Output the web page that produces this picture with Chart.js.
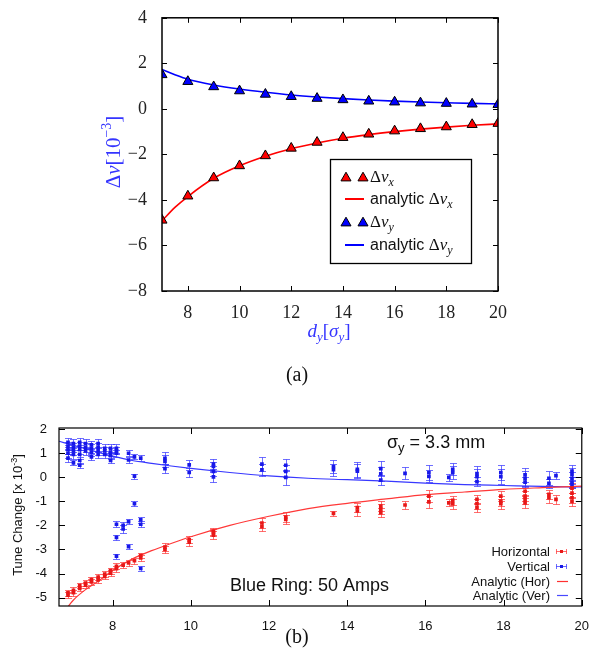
<!DOCTYPE html>
<html>
<head>
<meta charset="utf-8">
<script src="https://cdn.jsdelivr.net/npm/chart.js@4.4.1/dist/chart.umd.min.js"></script>
<style>
  body { margin: 0; background: #fff; }
  #wrap { position: relative; width: 594px; height: 660px; }
  canvas { position: absolute; left: 0; }
  #chartA { top: 0; }
  #chartB { top: 400px; }
</style>
</head>
<body>
<div id="wrap">
  <canvas id="chartA" width="594" height="400"></canvas>
  <canvas id="chartB" width="594" height="260"></canvas>
</div>
<script>
// ===============================
// (a) SIMULATION DATA
// ===============================
const dySigma = [7, 8, 9, 10, 11, 12, 13, 14, 15, 16, 17, 18, 19, 20];
const dNuX = [-4.89, -3.83, -3.03, -2.5, -2.06, -1.73, -1.47, -1.26, -1.11, -0.97, -0.87, -0.79, -0.69, -0.64];
const dNuY = [1.5, 1.2, 0.97, 0.79, 0.64, 0.54, 0.46, 0.4, 0.34, 0.3, 0.26, 0.24, 0.21, 0.19];

const anaGridA = [7, 7.5, 8, 9, 10, 11, 12, 13, 14, 15, 16, 17, 18, 19, 20];
const anaNuX = [-4.92, -4.33, -3.85, -3.05, -2.5, -2.08, -1.75, -1.5, -1.29, -1.13, -1.0, -0.89, -0.8, -0.72, -0.66];
const anaNuY = [1.73, 1.5, 1.3, 1.05, 0.87, 0.73, 0.61, 0.52, 0.45, 0.39, 0.34, 0.3, 0.27, 0.24, 0.22];

const xTicksA = [8, 10, 12, 14, 16, 18, 20];
const yTicksA = [-8, -6, -4, -2, 0, 2, 4];

// ===============================
// (b) MEASUREMENT DATA  [x, y, err]
// ===============================
const horPts = [
  [6.86, -4.9, 0.12], [6.86, -4.8, 0.12], [7.0, -4.8, 0.12], [7.0, -4.7, 0.12],
  [7.16, -4.62, 0.12], [7.16, -4.5, 0.12], [7.31, -4.48, 0.12], [7.31, -4.4, 0.12],
  [7.46, -4.35, 0.12], [7.46, -4.25, 0.12], [7.63, -4.27, 0.12], [7.63, -4.15, 0.12],
  [7.8, -4.12, 0.12], [7.8, -4.02, 0.12], [7.95, -3.98, 0.12], [7.95, -3.88, 0.12],
  [8.1, -3.8, 0.12], [8.1, -3.7, 0.12], [8.27, -3.65, 0.12], [8.41, -3.56, 0.12],
  [8.56, -3.47, 0.12], [8.72, -3.35, 0.12], [8.72, -3.25, 0.12],
  [9.34, -3.0, 0.15], [9.34, -2.9, 0.15], [9.96, -2.7, 0.15], [9.96, -2.6, 0.15],
  [10.58, -2.4, 0.15], [10.58, -2.3, 0.15], [10.58, -2.25, 0.15],
  [11.82, -2.05, 0.2], [11.82, -1.9, 0.2], [12.43, -1.75, 0.2], [12.43, -1.65, 0.2],
  [13.65, -1.5, 0.12], [14.26, -1.4, 0.2], [14.26, -1.26, 0.2],
  [14.86, -1.47, 0.2], [14.86, -1.33, 0.2], [14.86, -1.2, 0.2], [15.48, -1.15, 0.15],
  [16.09, -1.02, 0.25], [16.09, -0.78, 0.25], [16.6, -1.06, 0.15],
  [16.7, -1.1, 0.2], [16.7, -0.96, 0.2],
  [17.32, -1.26, 0.2], [17.32, -1.1, 0.2], [17.32, -0.92, 0.2],
  [17.93, -1.1, 0.2], [17.93, -0.99, 0.2], [17.93, -0.78, 0.2],
  [18.55, -1.06, 0.2], [18.55, -0.92, 0.2], [18.55, -0.78, 0.2], [18.55, -0.58, 0.2],
  [19.16, -0.85, 0.2], [19.16, -0.71, 0.2], [19.34, -0.92, 0.2],
  [19.75, -1.0, 0.2], [19.75, -0.85, 0.2], [19.75, -0.66, 0.2], [19.75, -0.45, 0.2]
];

const verPts = [
  [6.86, 1.45, 0.18], [6.86, 1.3, 0.18], [6.86, 1.15, 0.18], [6.86, 1.0, 0.18], [6.86, 0.8, 0.15],
  [7.0, 1.4, 0.18], [7.0, 1.25, 0.18], [7.0, 1.1, 0.18], [7.0, 0.95, 0.18], [7.0, 0.6, 0.1],
  [7.16, 1.45, 0.18], [7.16, 1.3, 0.18], [7.16, 1.15, 0.18], [7.16, 0.95, 0.18], [7.16, 0.7, 0.15], [7.16, 0.5, 0.1],
  [7.31, 1.4, 0.18], [7.31, 1.25, 0.18], [7.31, 1.1, 0.18],
  [7.46, 1.35, 0.18], [7.46, 1.2, 0.18], [7.46, 1.05, 0.18], [7.46, 0.85, 0.12],
  [7.63, 1.4, 0.2], [7.63, 1.25, 0.18], [7.63, 1.1, 0.18], [7.63, 0.95, 0.15],
  [7.8, 1.2, 0.18], [7.8, 1.1, 0.18], [7.8, 0.95, 0.15],
  [7.95, 1.2, 0.18], [7.95, 1.05, 0.18], [7.95, 0.9, 0.15], [7.95, 0.7, 0.12],
  [8.1, 1.2, 0.18], [8.1, 1.1, 0.15], [8.1, 1.0, 0.15],
  [8.1, -1.95, 0.12], [8.1, -2.5, 0.1], [8.1, -3.28, 0.1],
  [8.27, -2.0, 0.15], [8.27, -2.15, 0.15],
  [8.41, 1.0, 0.12], [8.41, 0.72, 0.12], [8.41, -1.84, 0.1], [8.41, -2.88, 0.1],
  [8.56, 0.85, 0.1], [8.56, 0.05, 0.1], [8.56, -1.1, 0.1],
  [8.72, 0.8, 0.12], [8.72, -1.77, 0.12], [8.72, -1.95, 0.12], [8.72, -3.79, 0.1],
  [9.34, 0.79, 0.25], [9.34, 0.66, 0.25], [9.34, 0.36, 0.2],
  [9.96, 0.52, 0.2], [9.96, 0.2, 0.2],
  [10.58, 0.55, 0.2], [10.58, 0.45, 0.2], [10.58, 0.25, 0.2], [10.58, 0.02, 0.2],
  [11.82, 0.55, 0.3], [11.82, 0.31, 0.25],
  [12.43, 0.5, 0.25], [12.43, 0.25, 0.25], [12.43, 0.0, 0.3],
  [13.65, 0.45, 0.25], [13.65, 0.32, 0.25],
  [14.26, 0.33, 0.3], [14.26, 0.26, 0.3],
  [14.86, 0.36, 0.3], [14.86, 0.14, 0.3], [14.86, -0.12, 0.2],
  [15.48, 0.16, 0.25],
  [16.09, 0.2, 0.3], [16.09, 0.04, 0.25],
  [16.6, 0.0, 0.15], [16.7, 0.33, 0.25], [16.7, 0.2, 0.25],
  [17.32, 0.15, 0.3], [17.32, 0.03, 0.3], [17.32, -0.18, 0.2],
  [17.93, 0.2, 0.3], [17.93, 0.03, 0.3],
  [18.55, 0.1, 0.3], [18.55, -0.05, 0.3], [18.55, -0.2, 0.2],
  [19.16, -0.04, 0.3], [19.16, -0.25, 0.2], [19.34, 0.07, 0.15],
  [19.75, 0.26, 0.25], [19.75, 0.12, 0.25], [19.75, -0.04, 0.25], [19.75, -0.2, 0.2], [19.75, -0.3, 0.15]
];

const anaGridHor = [6.8, 7, 7.3, 7.67, 8, 8.5, 9, 9.5, 10, 11, 12, 13, 14, 15, 16, 17, 18, 19, 20];
const anaHorB = [-5.5, -5.1, -4.68, -4.28, -3.87, -3.4, -3.05, -2.75, -2.47, -2.0, -1.62, -1.3, -1.08, -0.9, -0.72, -0.61, -0.5, -0.43, -0.37];
const anaGridVer = [6.63, 7, 7.5, 8, 8.5, 9, 9.5, 10, 11, 12, 13, 14, 15, 16, 17, 18, 19, 20];
const anaVerB = [1.5, 1.33, 1.1, 0.88, 0.7, 0.58, 0.47, 0.37, 0.2, 0.06, -0.04, -0.1, -0.16, -0.24, -0.3, -0.34, -0.38, -0.4];

const xTicksB = [8, 10, 12, 14, 16, 18, 20];
const yTicksB = [-5, -4, -3, -2, -1, 0, 1, 2];

// ===============================
// HELPERS
// ===============================
const SERIF = "'Liberation Serif', 'DejaVu Serif', serif";
const SANS = "'Liberation Sans', Arial, sans-serif";

function pairs(xs, ys) {
  return xs.map((x, i) => ({ x, y: ys[i] }));
}

// parts: [text, font, dy]
function rich(ctx, parts, x, y, align) {
  let w = 0;
  parts.forEach(p => { ctx.font = p[1]; w += ctx.measureText(p[0]).width; });
  let cx = align === "center" ? x - w / 2 : align === "right" ? x - w : x;
  ctx.textAlign = "left";
  ctx.textBaseline = "alphabetic";
  parts.forEach(p => {
    ctx.font = p[1];
    ctx.fillText(p[0], cx, y + (p[2] || 0));
    cx += ctx.measureText(p[0]).width;
  });
}

function triangle(ctx, x, y, r, fill) {
  ctx.beginPath();
  ctx.moveTo(x, y - r);
  ctx.lineTo(x + 0.866 * r, y + 0.5 * r);
  ctx.lineTo(x - 0.866 * r, y + 0.5 * r);
  ctx.closePath();
  ctx.fillStyle = fill;
  ctx.fill();
  ctx.strokeStyle = "#000";
  ctx.lineWidth = 1;
  ctx.stroke();
}

// frame + inward ticks on all four sides
function frameTicks(len, lw, tickColor) {
  return {
    id: "frameTicks",
    afterDatasetsDraw(chart) {
      const { ctx, chartArea: a, scales: { x, y } } = chart;
      ctx.save();
      ctx.strokeStyle = tickColor;
      ctx.lineWidth = 1;
      ctx.beginPath();
      x.ticks.forEach(t => {
        const px = Math.round(x.getPixelForValue(t.value)) + 0.5;
        ctx.moveTo(px, a.bottom); ctx.lineTo(px, a.bottom - len);
        ctx.moveTo(px, a.top); ctx.lineTo(px, a.top + len);
      });
      y.ticks.forEach(t => {
        const py = Math.round(y.getPixelForValue(t.value)) + 0.5;
        ctx.moveTo(a.left, py); ctx.lineTo(a.left + len, py);
        ctx.moveTo(a.right, py); ctx.lineTo(a.right - len, py);
      });
      ctx.stroke();
      ctx.strokeStyle = "#000";
      ctx.lineWidth = lw;
      ctx.strokeRect(a.left, a.top, a.right - a.left, a.bottom - a.top);
      ctx.restore();
    }
  };
}

const minus = v => (v < 0 ? "\u2212" + Math.abs(v) : String(v));

// ===============================
// CHART (a)
// ===============================
const textA = {
  id: "textA",
  afterDraw(chart) {
    const ctx = chart.ctx;
    ctx.save();
    // axis titles
    ctx.fillStyle = "#3434ff";
    rich(ctx, [["d", "italic 19px " + SERIF], ["y", "italic 13px " + SERIF, 4],
               ["[", "19px " + SERIF], ["\u03c3", "italic 19px " + SERIF],
               ["y", "italic 13px " + SERIF, 4], ["]", "19px " + SERIF]], 329, 337, "center");
    ctx.save();
    ctx.translate(120, 152);
    ctx.rotate(-Math.PI / 2);
    rich(ctx, [["\u0394", "21px " + SERIF], ["\u03bd", "italic 21px " + SERIF],
               ["[10", "21px " + SERIF], ["\u22123", "14px " + SERIF, -9], ["]", "21px " + SERIF]], 0, 0, "center");
    ctx.restore();
    // caption
    ctx.fillStyle = "#111";
    rich(ctx, [["(a)", "20px " + SERIF]], 297, 381, "center");

    // legend box
    ctx.fillStyle = "#fff";
    ctx.fillRect(330, 159, 141, 104);
    ctx.strokeStyle = "#000";
    ctx.lineWidth = 1.3;
    ctx.strokeRect(330.5, 159.5, 141, 104);
    const rows = [
      { y: 177, color: "#ff0000", sym: "tri", sub: "x" },
      { y: 199, color: "#ff0000", sym: "line", sub: "x" },
      { y: 222, color: "#0000ff", sym: "tri", sub: "y" },
      { y: 245, color: "#0000ff", sym: "line", sub: "y" }
    ];
    rows.forEach(r => {
      if (r.sym === "tri") {
        triangle(ctx, 346, r.y + 1, 5.8, r.color);
        triangle(ctx, 363, r.y + 1, 5.8, r.color);
      } else {
        ctx.strokeStyle = r.color;
        ctx.lineWidth = 2;
        ctx.beginPath(); ctx.moveTo(345, r.y); ctx.lineTo(364, r.y); ctx.stroke();
      }
      ctx.fillStyle = "#111";
      const parts = [];
      if (r.sym === "line") parts.push(["analytic ", "16px " + SANS]);
      parts.push(["\u0394", "17px " + SERIF], ["\u03bd", "italic 17px " + SERIF], [r.sub, "italic 12px " + SERIF, 4]);
      rich(ctx, parts, 370, r.y + 5, "left");
    });
    ctx.restore();
  }
};

new Chart(document.getElementById("chartA"), {
  type: "scatter",
  data: {
    datasets: [
      { data: pairs(dySigma, dNuX), pointStyle: "triangle", pointRadius: 5.8, backgroundColor: "#ff0000",
        borderColor: "#000", borderWidth: 1, order: 0, clip: 0 },
      { data: pairs(dySigma, dNuY), pointStyle: "triangle", pointRadius: 5.8, backgroundColor: "#0000ff",
        borderColor: "#000", borderWidth: 1, order: 0, clip: 0 },
      { data: pairs(anaGridA, anaNuX), showLine: true, pointRadius: 0, borderColor: "#ff0000",
        borderWidth: 1.6, cubicInterpolationMode: "monotone", order: 1 },
      { data: pairs(anaGridA, anaNuY), showLine: true, pointRadius: 0, borderColor: "#0000ff",
        borderWidth: 1.6, cubicInterpolationMode: "monotone", order: 1 }
    ]
  },
  options: {
    responsive: false,
    animation: false,
    devicePixelRatio: 1,
    layout: { padding: { top: 10, right: 96, bottom: 60, left: 0 } },
    plugins: { legend: { display: false }, tooltip: { enabled: false } },
    scales: {
      x: {
        type: "linear", min: 7, max: 20,
        afterBuildTicks: s => { s.ticks = xTicksA.map(v => ({ value: v })); },
        afterFit: s => { s.height = 49; },
        grid: { display: false }, border: { display: false },
        ticks: { font: { family: SERIF, size: 18 }, color: "#222", padding: 3, maxRotation: 0, callback: minus }
      },
      y: {
        min: -8, max: 4,
        afterBuildTicks: s => { s.ticks = yTicksA.map(v => ({ value: v })); },
        afterFit: s => { s.width = 162; },
        grid: { display: false }, border: { display: false },
        ticks: { font: { family: SERIF, size: 18 }, color: "#222", padding: 7, callback: minus }
      }
    }
  },
  plugins: [frameTicks(5, 1.5, "#000"), textA]
});

// ===============================
// CHART (b)
// ===============================
const errorBars = {
  id: "errorBars",
  beforeDatasetsDraw(chart) {
    const { ctx, chartArea: a, scales: { x, y } } = chart;
    ctx.save();
    ctx.beginPath();
    ctx.rect(a.left, a.top, a.right - a.left, a.bottom - a.top);
    ctx.clip();
    chart.data.datasets.forEach(ds => {
      if (!ds.errColor) return;
      ctx.strokeStyle = ds.errColor;
      ctx.lineWidth = 1;
      ds.data.forEach(p => {
        const px = Math.round(x.getPixelForValue(p.x)) + 0.5;
        const top = Math.round(y.getPixelForValue(p.y + p.err)) + 0.5;
        const bot = Math.round(y.getPixelForValue(p.y - p.err)) + 0.5;
        ctx.beginPath();
        ctx.moveTo(px, top); ctx.lineTo(px, bot);
        ctx.moveTo(px - 3.5, top); ctx.lineTo(px + 3.5, top);
        ctx.moveTo(px - 3.5, bot); ctx.lineTo(px + 3.5, bot);
        ctx.stroke();
      });
    });
    ctx.restore();
  }
};

const textB = {
  id: "textB",
  afterDraw(chart) {
    const ctx = chart.ctx;
    ctx.save();
    ctx.fillStyle = "#111";
    rich(ctx, [["\u03c3", "18px " + SANS], ["y", "13px " + SANS, 4], [" = 3.3 mm", "18px " + SANS]], 387, 48, "left");
    rich(ctx, [["Blue Ring: 50 Amps", "18px " + SANS]], 230, 191, "left");

    // y title
    ctx.save();
    ctx.translate(22, 115);
    ctx.rotate(-Math.PI / 2);
    rich(ctx, [["Tune Change [x 10", "13px " + SANS], ["-3", "9px " + SANS, -5], ["]", "13px " + SANS]], 0, 0, "center");
    ctx.restore();

    // legend
    const rows = [
      { y: 151, label: "Horizontal", color: "#e81818", bar: "rgba(255,70,70,0.8)", kind: "pt" },
      { y: 166, label: "Vertical", color: "#1818e8", bar: "rgba(70,70,255,0.8)", kind: "pt" },
      { y: 181, label: "Analytic (Hor)", color: "#ff3030", kind: "line" },
      { y: 195, label: "Analytic (Ver)", color: "#4848ff", kind: "line" }
    ];
    rows.forEach(r => {
      ctx.fillStyle = "#111";
      rich(ctx, [[r.label, "13px " + SANS]], 550, r.y + 4.5, "right");
      ctx.lineWidth = 1;
      if (r.kind === "pt") {
        ctx.strokeStyle = r.bar;
        ctx.beginPath();
        ctx.moveTo(556, r.y + 0.5); ctx.lineTo(567, r.y + 0.5);
        ctx.moveTo(556.5, r.y - 2); ctx.lineTo(556.5, r.y + 3);
        ctx.moveTo(566.5, r.y - 2); ctx.lineTo(566.5, r.y + 3);
        ctx.stroke();
        ctx.fillStyle = r.color;
        ctx.fillRect(560, r.y - 1, 3, 3);
      } else {
        ctx.strokeStyle = r.color;
        ctx.lineWidth = 1.2;
        ctx.beginPath(); ctx.moveTo(557, r.y + 0.5); ctx.lineTo(568, r.y + 0.5); ctx.stroke();
      }
    });

    // caption
    ctx.fillStyle = "#111";
    rich(ctx, [["(b)", "20px " + SERIF]], 297, 243, "center");
    ctx.restore();
  }
};

new Chart(document.getElementById("chartB"), {
  type: "scatter",
  data: {
    datasets: [
      { data: horPts.map(p => ({ x: p[0], y: p[1], err: p[2] })), errColor: "rgba(255,50,50,0.7)",
        pointStyle: "rect", pointRadius: 2.6, backgroundColor: "#e81818", borderWidth: 0, order: 0 },
      { data: verPts.map(p => ({ x: p[0], y: p[1], err: p[2] })), errColor: "rgba(50,50,255,0.7)",
        pointStyle: "rect", pointRadius: 2.6, backgroundColor: "#1818e8", borderWidth: 0, order: 0 },
      { data: pairs(anaGridHor, anaHorB), showLine: true, pointRadius: 0, borderColor: "#ff3838",
        borderWidth: 1.2, cubicInterpolationMode: "monotone", order: 1 },
      { data: pairs(anaGridVer, anaVerB), showLine: true, pointRadius: 0, borderColor: "#3838ff",
        borderWidth: 1.2, cubicInterpolationMode: "monotone", order: 1 }
    ]
  },
  options: {
    responsive: false,
    animation: false,
    devicePixelRatio: 1,
    layout: { padding: { top: 28, right: 11, bottom: 20, left: 0 } },
    plugins: { legend: { display: false }, tooltip: { enabled: false } },
    scales: {
      x: {
        type: "linear", min: 6.63, max: 20,
        afterBuildTicks: s => { s.ticks = xTicksB.map(v => ({ value: v })); },
        afterFit: s => { s.height = 34; },
        grid: { display: false }, border: { display: false },
        ticks: { font: { family: SANS, size: 13 }, color: "#111", padding: 5, maxRotation: 0 }
      },
      y: {
        min: -5.35, max: 2.05,
        afterBuildTicks: s => { s.ticks = yTicksB.map(v => ({ value: v })); },
        afterFit: s => { s.width = 59; },
        grid: { display: false }, border: { display: false },
        ticks: { font: { family: SANS, size: 13 }, color: "#111", padding: 4 }
      }
    }
  },
  plugins: [frameTicks(6, 1.2, "#000"), errorBars, textB]
});
</script>
</body>
</html>
